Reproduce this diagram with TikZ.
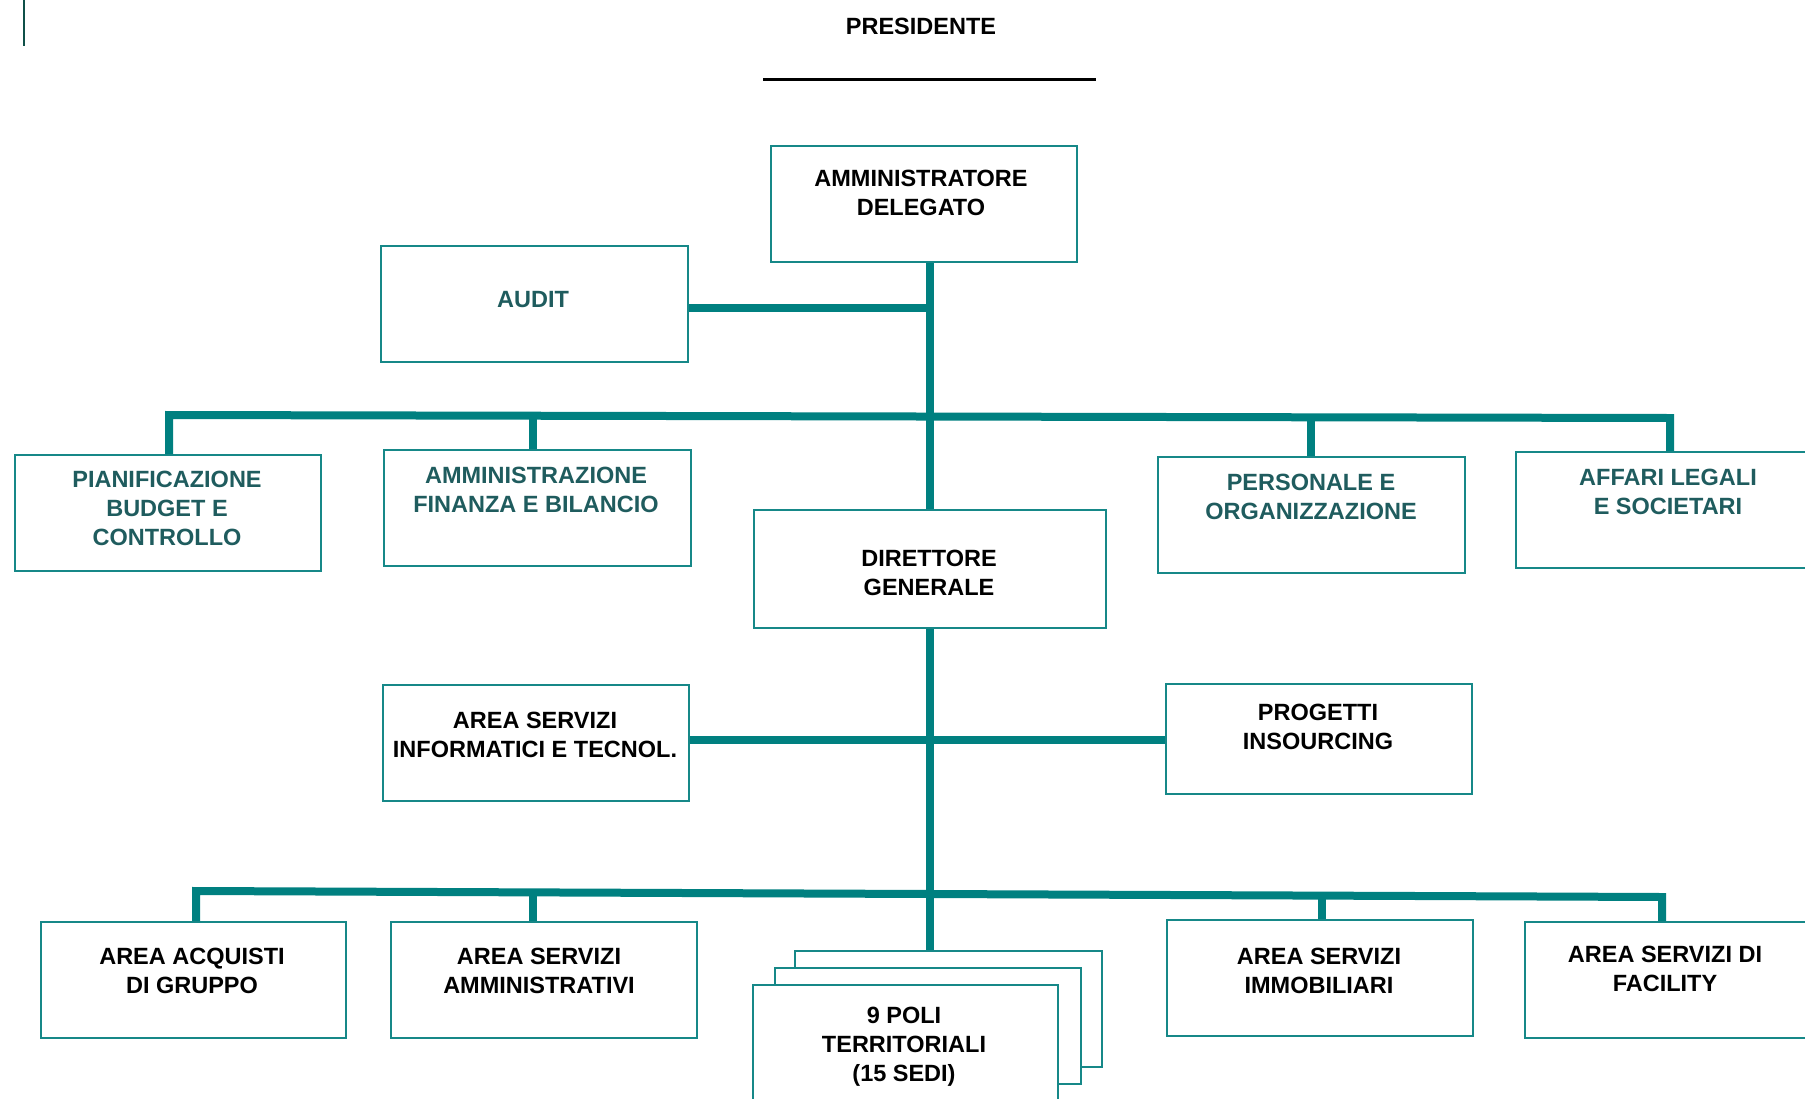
\documentclass[tikz,border=0pt]{standalone}
\usepackage{fontspec}
\setmainfont{Liberation Sans}
\definecolor{conncol}{RGB}{0,128,128}
\definecolor{boxcol}{RGB}{22,136,136}
\definecolor{dtext}{RGB}{31,92,94}
\definecolor{leftline}{RGB}{15,80,72}
\begin{document}
\begin{tikzpicture}[x=1pt,y=-1pt,
  boxnode/.style={draw=boxcol,line width=2.4pt,fill=white,anchor=north west,inner sep=0pt,minimum width=#1,minimum height=116pt},
  boxnode/.default=306pt,
  lbl/.style={font=\bfseries\fontsize{23.5}{29}\selectfont,align=center,inner sep=0pt,text=black},
  dlbl/.style={lbl,text=dtext},
  conn/.style={draw=conncol,line width=8pt},
]
\useasboundingbox (0,0) rectangle (1805,1098);
\clip (0,0) rectangle (1805,1098);

% top decorations
\draw[leftline,line width=2pt] (24,0) -- (24,46);
\node[lbl] (pres) at (921,26) {PRESIDENTE};
\coordinate (presL) at (763,79);
\coordinate (presR) at (1096,79);
\draw[black,line width=3pt] (presL) -- (presR);

% boxes
\node[boxnode] (ad) at (770,145) {};
\node[boxnode=307pt] (audit) at (380,245) {};
\node[boxnode] (pbc) at (14,454) {};
\node[boxnode=307pt] (afb) at (383,449) {};
\node[boxnode=307pt] (po) at (1157,456) {};
\node[boxnode=320pt] (als) at (1515,451) {};
\node[boxnode=352pt,minimum height=118pt] (dg) at (753,509) {};
\node[boxnode] (asit) at (382,684) {};
\node[boxnode,minimum height=110pt] (pi) at (1165,683) {};
\node[boxnode=305pt] (aag) at (40,921) {};
\node[boxnode] (asa) at (390,921) {};
\node[boxnode=307pt] (polic) at (794,950) {};
\node[boxnode] (polib) at (774,967) {};
\node[boxnode=305pt,minimum height=130pt] (polia) at (752,984) {};
\node[boxnode] (asi) at (1166,919) {};
\node[boxnode=320pt] (asf) at (1524,921) {};

% labels
\node[lbl] (adt) at (921,193) {AMMINISTRATORE\\DELEGATO};
\node[dlbl] (auditt) at (533,300) {AUDIT};
\node[dlbl] (pbct) at (167,508) {PIANIFICAZIONE\\BUDGET E\\CONTROLLO};
\node[dlbl] (afbt) at (536,490) {AMMINISTRAZIONE\\FINANZA E BILANCIO};
\node[dlbl] (pot) at (1311,497) {PERSONALE E\\ORGANIZZAZIONE};
\node[dlbl] (alst) at (1668,492) {AFFARI LEGALI\\E SOCIETARI};
\node[lbl] (dgt) at (929,573) {DIRETTORE\\GENERALE};
\node[lbl] (asitt) at (535,735) {AREA SERVIZI\\INFORMATICI E TECNOL.};
\node[lbl] (pit) at (1318,727) {PROGETTI\\INSOURCING};
\node[lbl] (aagt) at (192,971) {AREA ACQUISTI\\DI GRUPPO};
\node[lbl] (asat) at (539,971) {AREA SERVIZI\\AMMINISTRATIVI};
\node[lbl] (polit) at (904,1047) {9 POLI\\TERRITORIALI\\(15 SEDI)};
\node[lbl] (asit2) at (1319,971) {AREA SERVIZI\\IMMOBILIARI};
\node[lbl] (asft) at (1665,969) {AREA SERVIZI DI\\FACILITY};

% bus coordinates
\coordinate (tbL) at (169,415);
\coordinate (tbR) at (1670,418);
\coordinate (bbL) at (196,891);
\coordinate (bbR) at (1662,897);
\coordinate (auj) at (929,308);
\coordinate (mij) at (929,740);

% connectors
\draw[conn] (dg.north |- ad.south) -- (dg.north);
\draw[conn] (dg.south) -- (dg.south |- polic.north);
\draw[conn] (audit.east |- auj) -- (auj);
\draw[conn] (asit.east |- mij) -- (pi.west |- mij);
\draw[conn,line join=miter] (tbL |- pbc.north) -- (tbL) -- (tbR) -- (tbR |- als.north);
\draw[conn] (533,416) -- (533,449);
\draw[conn] (1311,418) -- (1311,456);
\draw[conn,line join=miter] (bbL |- aag.north) -- (bbL) -- (bbR) -- (bbR |- asf.north);
\draw[conn] (533,892) -- (533,921);
\draw[conn] (1322,895) -- (1322,919);
\end{tikzpicture}
\end{document}
